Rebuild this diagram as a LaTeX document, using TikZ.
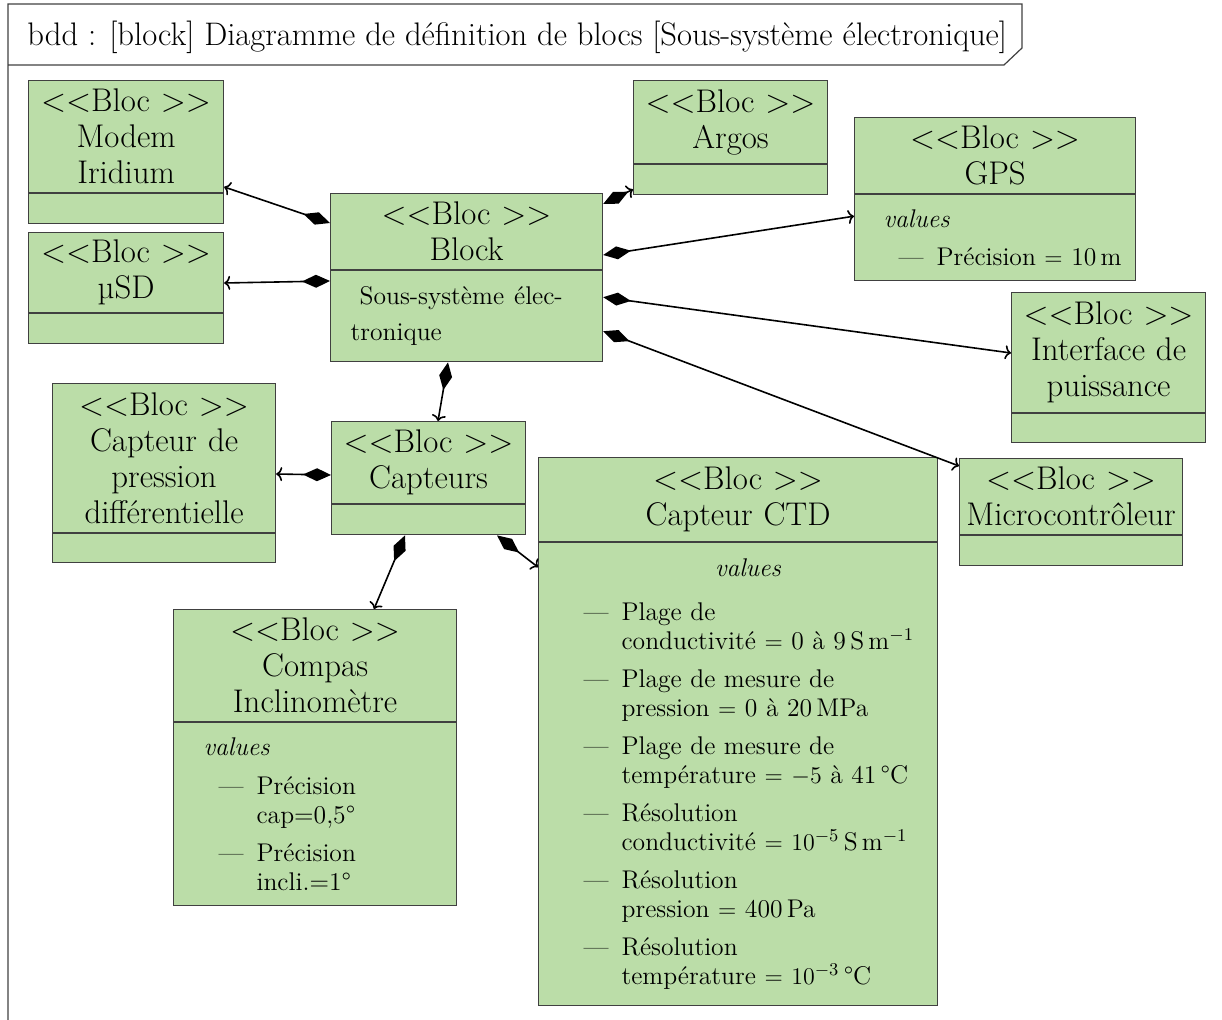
\documentclass[tikz,border=0pt,12pt]{standalone}
\usetikzlibrary{arrows.meta}

\definecolor{vert}{RGB}{187,221,168}
\definecolor{bordure}{RGB}{64,64,64}
\newcommand{\stereo}{{<}{<}Bloc {>}{>}}
\newcommand{\tiret}{\makebox[19pt][l]{---}}

\begin{document}
\begin{tikzpicture}[
            x=0.5pt, y=-0.5pt,
            bloc/.style={draw=bordure, fill=vert, line width=0.6pt, inner sep=0pt, anchor=north west, align=center, font=\fontsize{16.4}{18}\selectfont},
            compartiment/.style={draw=bordure, fill=vert, line width=0.6pt, inner sep=0pt, anchor=north west, align=left, font=\fontsize{12.8}{14.5}\selectfont},
            compo/.style={line width=0.8pt, {Diamond[length=14pt, width=6.5pt]}-{To[length=3pt, width=7pt]}},
        ]
        \useasboundingbox (0,0) rectangle (1222,1020);

        \draw[bordure, line width=0.6pt] (8,1020) -- (8,4) -- (1022,4) -- (1022,48) -- (1004,65) -- (8,65);
        \node[anchor=base west, inner sep=0pt, font=\fontsize{16.3}{18}\selectfont] (titre) at (27,46) {bdd : [block] Diagramme de définition de blocs [Sous-système électronique]};

        \node[bloc, text width=97.5pt, minimum height=56pt] (modem) at (28,80) {\stereo\\Modem\\Iridium};
        \node[compartiment, text width=97.5pt, minimum height=15pt] (modem-c) at (modem.south west) {};

        \node[bloc, text width=97.5pt, minimum height=40pt] (usd) at (28,232) {\stereo\\µSD};
        \node[compartiment, text width=97.5pt, minimum height=15pt] (usd-c) at (usd.south west) {};

        \node[bloc, text width=136pt, minimum height=38pt] (block) at (330,193) {\stereo\\Block};
        \node[compartiment, text width=136pt, minimum height=45.5pt] (block-c) at (block.south west) {\hspace*{14.5pt}Sous-système\hspace{5pt}élec-\\[3.5pt]\hspace*{10pt}tronique};

        \node[bloc, text width=97pt, minimum height=41.5pt] (argos) at (633,80) {\stereo\\Argos};
        \node[compartiment, text width=97pt, minimum height=15pt] (argos-c) at (argos.south west) {};

        \node[bloc, text width=140.5pt, minimum height=38pt] (gps) at (854,117) {\stereo\\GPS};
        \node[compartiment, text width=140.5pt, minimum height=43pt] (gps-c) at (gps.south west) {\hspace*{14.5pt}\textit{values}\\[4.5pt]\hspace*{22pt}\tiret Précision $=$ 10\,m};

        \node[bloc, text width=97pt, minimum height=60pt] (interface) at (1011,292) {\stereo\\Interface de\\puissance};
        \node[compartiment, text width=97pt, minimum height=14.5pt] (interface-c) at (interface.south west) {};

        \node[bloc, text width=111.5pt, minimum height=38pt] (micro) at (959,458) {\stereo\\Microcontrôleur};
        \node[compartiment, text width=111.5pt, minimum height=15pt] (micro-c) at (micro.south west) {};

        \node[bloc, text width=111.5pt, minimum height=74.5pt] (pression) at (52,383) {\stereo\\Capteur de\\pression\\différentielle};
        \node[compartiment, text width=111.5pt, minimum height=14.5pt] (pression-c) at (pression.south west) {};

        \node[bloc, text width=97pt, minimum height=41pt] (capteurs) at (331,421) {\stereo\\Capteurs};
        \node[compartiment, text width=97pt, minimum height=15pt] (capteurs-c) at (capteurs.south west) {};

        \node[bloc, text width=199.5pt, minimum height=42pt] (ctd) at (538,457) {\stereo\\Capteur CTD};
        \node[compartiment, text width=199.5pt, minimum height=231.5pt] (ctd-c) at (ctd.south west) {%
            \hspace*{10pt}\makebox[189.5pt]{\textit{values}}\\[7.5pt]
            \hspace*{22.5pt}\tiret Plage de\\
            \hspace*{41.5pt}conductivité $=$ 0 à 9\,S\,m$^{-1}$\\[4.5pt]
            \hspace*{22.5pt}\tiret Plage de mesure de\\
            \hspace*{41.5pt}pression $=$ 0 à 20\,MPa\\[4.5pt]
            \hspace*{22.5pt}\tiret Plage de mesure de\\
            \hspace*{41.5pt}température $=$ $-5$ à 41\,\textdegree C\\[4.5pt]
            \hspace*{22.5pt}\tiret Résolution\\
            \hspace*{41.5pt}conductivité $=$ $10^{-5}$\,S\,m$^{-1}$\\[4.5pt]
            \hspace*{22.5pt}\tiret Résolution\\
            \hspace*{41.5pt}pression $=$ 400\,Pa\\[4.5pt]
            \hspace*{22.5pt}\tiret Résolution\\
            \hspace*{41.5pt}température $=$ $10^{-3}$\,\textdegree C};

        \node[bloc, text width=141.5pt, minimum height=56pt] (compas) at (173,609) {\stereo\\Compas\\Inclinomètre};
        \node[compartiment, text width=141.5pt, minimum height=91.5pt] (compas-c) at (compas.south west) {%
            \hspace*{15pt}\textit{values}\\[5pt]
            \hspace*{22.5pt}\tiret Précision\\
            \hspace*{41.5pt}cap=0,5\textdegree\\[4.5pt]
            \hspace*{22.5pt}\tiret Précision\\
            \hspace*{41.5pt}incli.=1\textdegree};

        \draw[compo] ([shift={(0,30)}]block.north west) -- ([shift={(0,107)}]modem.north east);
        \draw[compo] ([shift={(0,88)}]block.north west) -- ([shift={(0,51)}]usd.north east);
        \draw[compo] ([shift={(0,11)}]block.north east) -- ([shift={(0,-6)}]argos-c.south west);
        \draw[compo] ([shift={(0,62)}]block.north east) -- ([shift={(0,22)}]gps-c.north west);
        \draw[compo] ([shift={(0,27)}]block-c.north east) -- ([shift={(0,61)}]interface.north west);
        \draw[compo] ([shift={(0,61)}]block-c.north east) -- ([shift={(0,8)}]micro.north west);
        \draw[compo] ([shift={(118,0)}]block-c.south west) -- ([shift={(107,0)}]capteurs.north west);
        \draw[compo] ([shift={(0,54)}]capteurs.north west) -- ([shift={(0,91)}]pression.north east);
        \draw[compo] ([shift={(74,0)}]capteurs-c.south west) -- ([shift={(201,0)}]compas.north west);
        \draw[compo] ([shift={(166,0)}]capteurs-c.south west) -- ([shift={(0,25)}]ctd-c.north west);

    \end{tikzpicture}
\end{document}
